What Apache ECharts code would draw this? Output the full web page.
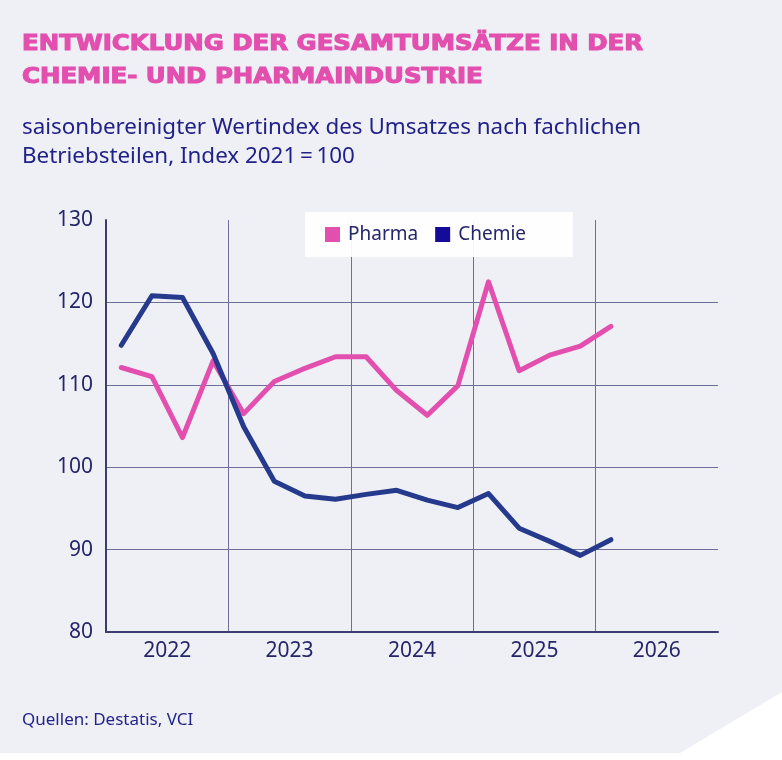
<!DOCTYPE html>
<html>
<head>
<meta charset="utf-8">
<script src="https://cdn.jsdelivr.net/npm/echarts@6/dist/echarts.min.js"></script>
<style>
  html, body { margin: 0; padding: 0; background: #ffffff; }
  #chart { width: 782px; height: 760px; }
</style>
</head>
<body>
<div id="chart"></div>
<script>
// Jahre und Quartale fuer die x-Achse
var years = ['2022', '2023', '2024', '2025', '2026'];
var quarters = ['Q1', 'Q2', 'Q3', 'Q4'];

// Index 2021 = 100, Quartalswerte 2022 Q1 bis 2026 Q1
var pharma = [112.1, 111.0, 103.6, 112.9, 106.5, 110.4, 112.0, 113.4, 113.4, 109.3, 106.3, 109.9, 122.5, 111.7, 113.6, 114.7, 117.1];
var chemie = [114.8, 120.8, 120.6, 113.8, 104.9, 98.3, 96.5, 96.1, 96.7, 97.2, 96.0, 95.1, 96.8, 92.6, 91.0, 89.3, 91.2];

var yTicks = [80, 90, 100, 110, 120, 130];

var titleLines = ['ENTWICKLUNG DER GESAMTUMSÄTZE IN DER', 'CHEMIE- UND PHARMAINDUSTRIE'];
var subLines = ['saisonbereinigter Wertindex des Umsatzes nach fachlichen', 'Betriebsteilen, Index 2021\u2009=\u2009100'];

var quarterCats = [];
years.forEach(function (y) {
  quarters.forEach(function (q) { quarterCats.push(y + ' ' + q); });
});

var pink = '#e24fae';
var navy = '#253a8c';
var textCol = '#25256a';
var gridCol = '#6e6e9a';
var bodyFont = '"Noto Sans", sans-serif';

// Titel und Untertitel auf die Breite der Vorlage ziehen
var titleFont = 'bold 21px "DejaVu Sans", sans-serif';
var subFont = '21px ' + bodyFont;
var ctx = document.createElement('canvas').getContext('2d');
ctx.font = titleFont;
var titleScale = 621 / ctx.measureText(titleLines[0]).width;
ctx.font = subFont;
var subScale = 619 / ctx.measureText(subLines[0]).width;

var chart = echarts.init(document.getElementById('chart'));

var option = {
  backgroundColor: '#ffffff',
  textStyle: { fontFamily: bodyFont },
  graphic: [
    {
      // grauer Hintergrund mit abgeschnittener Ecke unten rechts
      type: 'polygon',
      z: -10,
      shape: { points: [[0, 0], [782, 0], [782, 692], [680, 753], [0, 753]] },
      style: { fill: '#eff0f6' }
    },
    {
      type: 'text', x: 22, y: 45, scaleX: titleScale,
      style: { text: titleLines[0], fill: pink, stroke: pink, lineWidth: 1.1, font: titleFont, verticalAlign: 'middle' }
    },
    {
      type: 'text', x: 22, y: 77.5, scaleX: titleScale,
      style: { text: titleLines[1], fill: pink, stroke: pink, lineWidth: 1.1, font: titleFont, verticalAlign: 'middle' }
    },
    {
      type: 'text', x: 22, y: 128, scaleX: subScale,
      style: { text: subLines[0], fill: '#21218a', font: subFont, verticalAlign: 'middle' }
    },
    {
      type: 'text', x: 22, y: 157.5, scaleX: subScale,
      style: { text: subLines[1], fill: '#21218a', font: subFont, verticalAlign: 'middle' }
    },
    {
      type: 'text', x: 22, y: 720,
      style: {
        text: 'Quellen: Destatis, VCI',
        fill: '#23238a',
        font: '17px "Liberation Sans Narrow", "Noto Sans", sans-serif',
        verticalAlign: 'middle'
      }
    }
  ],
  legend: {
    top: 212,
    left: 305,
    padding: [13, 47, 13, 20],
    itemGap: 17,
    itemWidth: 15,
    itemHeight: 15,
    backgroundColor: 'rgba(255,255,255,0.92)',
    icon: 'rect',
    textStyle: { color: textCol, fontSize: 19, fontFamily: bodyFont, padding: [0, 0, 0, 3] },
    data: [
      { name: 'Pharma', itemStyle: { color: pink } },
      { name: 'Chemie', itemStyle: { color: '#140c98' } }
    ]
  },
  grid: { left: 106, right: 64, top: 220, bottom: 128 },
  xAxis: [
    {
      type: 'category',
      data: quarterCats,
      boundaryGap: true,
      show: false
    },
    {
      type: 'category',
      data: years,
      position: 'bottom',
      boundaryGap: true,
      axisLine: { show: true, lineStyle: { color: '#3c3c6e', width: 2 } },
      axisTick: { show: false },
      axisLabel: { color: textCol, fontSize: 21, margin: 9, fontFamily: bodyFont },
      splitLine: {
        show: true,
        lineStyle: { color: ['rgba(0,0,0,0)', gridCol, gridCol, gridCol, gridCol, 'rgba(0,0,0,0)'], width: 1 }
      }
    }
  ],
  yAxis: {
    type: 'value',
    min: yTicks[0],
    max: yTicks[yTicks.length - 1],
    interval: 10,
    axisLine: { show: true, lineStyle: { color: '#3c3c6e', width: 2 } },
    axisTick: { show: false },
    axisLabel: { color: textCol, fontSize: 21, margin: 13, fontFamily: bodyFont },
    splitLine: {
      show: true,
      lineStyle: { color: ['rgba(0,0,0,0)', gridCol, gridCol, gridCol, gridCol, 'rgba(0,0,0,0)'], width: 1 }
    }
  },
  series: [
    {
      name: 'Pharma',
      type: 'line',
      xAxisIndex: 0,
      data: pharma,
      symbol: 'none',
      lineStyle: { color: pink, width: 5, join: 'round', cap: 'round' },
      itemStyle: { color: pink }
    },
    {
      name: 'Chemie',
      type: 'line',
      xAxisIndex: 0,
      data: chemie,
      symbol: 'none',
      lineStyle: { color: navy, width: 5, join: 'round', cap: 'round' },
      itemStyle: { color: '#140c98' }
    }
  ]
};

chart.setOption(option);
</script>
</body>
</html>
